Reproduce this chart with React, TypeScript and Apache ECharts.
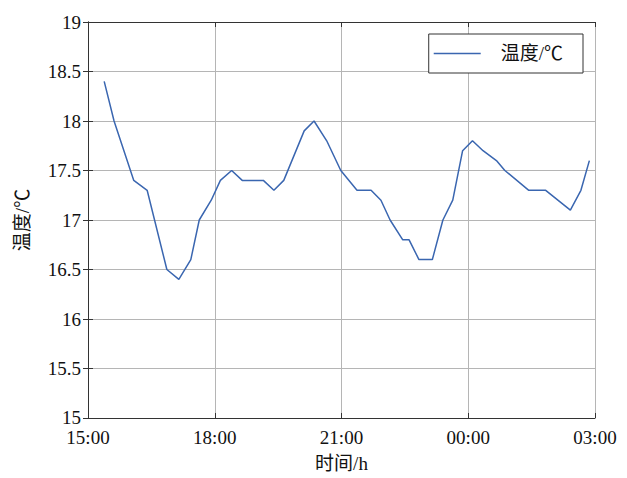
import React, { useEffect, useRef } from "react";
import * as echarts from "echarts";

const seriesName = "温度/℃";
const xAxisName = "时间/h";
const yAxisName = "温度/℃";
const xTickLabels = ["15:00", "18:00", "21:00", "00:00", "03:00"];
const times = [
  "15:23", "15:37", "16:05", "16:24", "16:52", "17:09", "17:26", "17:38", "17:55", "18:08",
  "18:24", "18:39", "19:09", "19:24", "19:38", "20:07", "20:21", "20:39", "20:59", "21:22",
  "21:42", "21:56", "22:09", "22:27", "22:36", "22:50", "23:09", "23:24", "23:38", "23:52",
  "00:06", "00:21", "00:40", "00:52", "01:26", "01:50", "02:25", "02:40", "02:52",
];
const temps = [
  18.4, 18.0, 17.4, 17.3, 16.5, 16.4, 16.6, 17.0, 17.2, 17.4,
  17.5, 17.4, 17.4, 17.3, 17.4, 17.9, 18.0, 17.8, 17.5, 17.3,
  17.3, 17.2, 17.0, 16.8, 16.8, 16.6, 16.6, 17.0, 17.2, 17.7,
  17.8, 17.7, 17.6, 17.5, 17.3, 17.3, 17.1, 17.3, 17.6,
];

const START_HOUR = 15;
function toHours(t: string): number {
  const [h, m] = t.split(":").map(Number);
  let hh = h + m / 60 - START_HOUR;
  if (hh < 0) hh += 24;
  return hh;
}

const FONT = "'Liberation Serif', 'Noto Sans CJK SC', serif";
const AXIS_COLOR = "#333333";
const GRID_COLOR = "#b5b5b5";

export default function App() {
  const ref = useRef<HTMLDivElement>(null);
  useEffect(() => {
    document.body.style.margin = "0";
    if (!ref.current) return;
    const chart = echarts.init(ref.current, undefined, { renderer: "svg" });
    const data = times.map((t, i) => [toHours(t), temps[i]]);
    const axisCommon = {
      axisLine: { show: true, lineStyle: { color: AXIS_COLOR, width: 1 } },
      axisTick: { show: true, inside: true, length: 5, lineStyle: { color: AXIS_COLOR } },
    };
    chart.setOption({
      animation: false,
      backgroundColor: "#ffffff",
      textStyle: { fontFamily: FONT },
      grid: { left: 88, right: 32, top: 22, bottom: 58 },
      legend: {
        right: 627 - 583,
        top: 34,
        orient: "vertical",
        padding: [10, 20, 10, 5],
        borderColor: "#333",
        borderWidth: 1,
        borderRadius: 0,
        backgroundColor: "#fff",
        itemWidth: 47,
        itemHeight: 10,
        textStyle: { fontFamily: FONT, fontSize: 19, color: "#111", padding: [0, 0, 0, 15] },
        data: [{ name: seriesName, icon: "path://M0,0L47,0L47,1.4L0,1.4Z" }],
      },
      xAxis: [
        {
          type: "value",
          min: 0,
          max: 12,
          interval: 3,
          name: xAxisName,
          nameLocation: "middle",
          nameGap: 36,
          nameTextStyle: { fontFamily: FONT, fontSize: 19, color: "#111" },
          ...axisCommon,
          axisLabel: {
            fontFamily: FONT,
            fontSize: 19,
            color: "#111",
            margin: 10,
            formatter: (v: number) => xTickLabels[Math.round(v / 3)] ?? "",
          },
          splitLine: { show: true, lineStyle: { color: GRID_COLOR, width: 1 } },
        },
        {
          type: "value",
          position: "top",
          min: 0,
          max: 12,
          interval: 3,
          ...axisCommon,
          axisLabel: { show: false },
          splitLine: { show: false },
        },
      ],
      yAxis: [
        {
          type: "value",
          min: 15,
          max: 19,
          interval: 0.5,
          name: yAxisName,
          nameLocation: "middle",
          nameGap: 56,
          nameTextStyle: { fontFamily: FONT, fontSize: 19, color: "#111" },
          ...axisCommon,
          axisLabel: { fontFamily: FONT, fontSize: 19, color: "#111", margin: 7 },
          splitLine: { show: true, lineStyle: { color: GRID_COLOR, width: 1 } },
        },
        {
          type: "value",
          position: "right",
          min: 15,
          max: 19,
          interval: 0.5,
          ...axisCommon,
          axisLabel: { show: false },
          splitLine: { show: false },
        },
      ],
      series: [
        {
          name: seriesName,
          type: "line",
          data,
          showSymbol: false,
          symbol: "none",
          lineStyle: { color: "#3a66b0", width: 1.5 },
          itemStyle: { color: "#3a66b0" },
        },
      ],
    });
    return () => chart.dispose();
  }, []);
  return <div ref={ref} style={{ width: 627, height: 478 }} />;
}
